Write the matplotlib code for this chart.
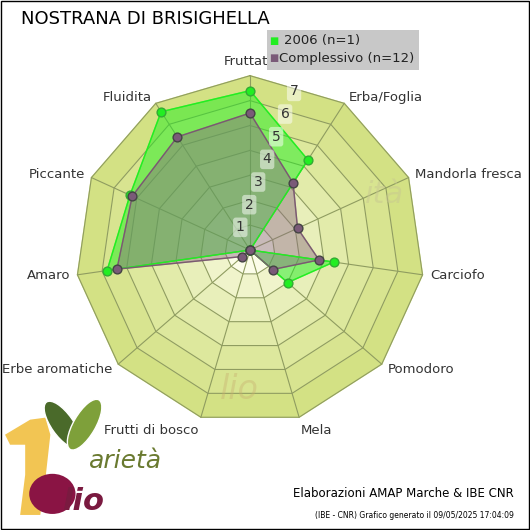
import numpy as np
import matplotlib
matplotlib.use("Agg")
import matplotlib.pyplot as plt
from matplotlib.colors import to_rgb
from matplotlib.patches import Ellipse, Polygon

title = "NOSTRANA DI BRISIGHELLA"
categories = ["Fruttato", "Erba/Foglia", "Mandorla fresca", "Carciofo", "Pomodoro",
              "Mela", "Frutti di bosco", "Erbe aromatiche", "Amaro", "Piccante", "Fluidita"]
vals_2006 = [6.4, 4.3, 0.0, 3.4, 2.0, 0.0, 0.0, 0.0, 5.8, 5.3, 6.6]
vals_all = [5.5, 3.2, 2.1, 2.8, 1.2, 0.0, 0.0, 0.4, 5.4, 5.2, 5.4]
labels = ["2006 (n=1)", "Complessivo (n=12)"]
ticks = [1, 2, 3, 4, 5, 6, 7]

n = len(categories)
ang = np.pi / 2 - np.arange(n) * 2 * np.pi / n

def xy(vals):
    v = np.asarray(vals, dtype=float)
    x = v * np.cos(ang)
    y = v * np.sin(ang)
    return np.append(x, x[0]), np.append(y, y[0])

fig = plt.figure(figsize=(5.3, 5.3), dpi=100)
ax = fig.add_axes([0, 0, 1, 1])
u = 24.9  # pixels per unit
ax.set_xlim(-250 / u, 280 / u)
ax.set_ylim(-280 / u, 250 / u)
ax.axis("off")

# ring fills
c_out = np.array(to_rgb("#d3e184"))
c_in = np.array(to_rgb("#fbfce8"))
for r in range(7, 0, -1):
    t = (r - 1) / 6
    col = c_in * (1 - t**0.7) + c_out * t**0.7
    gx, gy = xy([r] * n)
    ax.fill(gx, gy, color=col, zorder=1)
    ax.plot(gx, gy, color="#8f9c60", lw=0.8, zorder=2)
for a in ang:
    ax.plot([0, 7 * np.cos(a)], [0, 7 * np.sin(a)], color="#8f9c60", lw=0.8, zorder=2)

# faint watermark
ax.text(4.6, 1.9, "ità", fontsize=22, style="italic", color="#c8c890", alpha=0.5, zorder=2)
ax.text(-1.2, -6.0, "lio", fontsize=24, style="italic", color="#c8b070", alpha=0.4, zorder=2)

for r in ticks:
    ax.text(-0.75 + r * 0.36, r * 0.91, str(r), fontsize=10, color="#333333",
            ha="center", va="center", zorder=6,
            bbox=dict(boxstyle="round,pad=0.2", fc="white", ec="none", alpha=0.5))

x1, y1 = xy(vals_2006)
x2, y2 = xy(vals_all)
ax.fill(x1, y1, color="#22ee22", alpha=0.5, zorder=3)
ax.plot(x1, y1, color="#22ee22", lw=1, zorder=4)
ax.fill(x2, y2, color="#8a6a80", alpha=0.45, zorder=3)
ax.plot(x2, y2, color="#7a5a70", lw=1, zorder=4)
ax.scatter(x1[:-1], y1[:-1], s=40, color="#22ee22", edgecolor="#33aa33", zorder=5)
ax.scatter(x2[:-1], y2[:-1], s=40, color="#7a5a78", edgecolor="#444444", zorder=5)

for c, a in zip(categories, ang):
    r = 7.3
    x, y = r * np.cos(a), r * np.sin(a)
    ha = "center" if abs(np.cos(a)) < 0.2 else ("left" if np.cos(a) > 0 else "right")
    va = "bottom" if np.sin(a) > 0.95 else ("top" if np.sin(a) < -0.95 else "center")
    ax.text(x, y, c, fontsize=9.5, color="#333333", ha=ha, va=va, zorder=7)

fig.text(0.04, 0.965, title, fontsize=13, ha="left", va="center")
# legend
fig.patches.append(plt.Rectangle((0.503, 0.868), 0.287, 0.076, transform=fig.transFigure,
                                 fc="#c8c8c8", ec="none", zorder=0))
fig.text(0.508, 0.923, "■", color="#22ee22", fontsize=7, va="center")
fig.text(0.535, 0.923, labels[0], fontsize=9.5, va="center", color="#222222")
fig.text(0.508, 0.89, "■", color="#7a5a78", fontsize=7, va="center")
fig.text(0.527, 0.89, labels[1], fontsize=9.5, va="center", color="#222222")

fig.text(0.97, 0.062, "Elaborazioni AMAP Marche & IBE CNR", fontsize=8.5, ha="right")
fig.text(0.97, 0.022, "(IBE - CNR) Grafico generato il 09/05/2025 17:04:09", fontsize=5.5, ha="right")

# logo (approximate)
lg = fig.add_axes([0, 0, 0.38, 0.265])
lg.set_xlim(0, 200)
lg.set_ylim(0, 140)
lg.axis("off")
lg.add_patch(Polygon([[5, 95], [30, 110], [45, 112], [50, 95], [45, 50], [40, 15], [20, 15],
                      [25, 55], [25, 85], [10, 85]], closed=True, fc="#f2c553", ec="none"))
lg.add_patch(Ellipse((62, 105), 22, 55, angle=35, fc="#4a6a2a", ec="white", lw=1))
lg.add_patch(Ellipse((84, 105), 22, 57, angle=-30, fc="#7ea03a", ec="white", lw=1))
lg.add_patch(Ellipse((52, 36), 46, 40, fc="#8a1444", ec="none"))
lg.text(88, 62, "arietà", fontsize=18, style="italic", color="#6a7a30")
lg.text(62, 20, "lio", fontsize=22, style="italic", weight="bold", color="#7a1a40")

fig.patches.append(plt.Rectangle((0.001, 0.001), 0.998, 0.998, transform=fig.transFigure,
                                 fill=False, ec="black", lw=1))
fig.savefig("out.png", dpi=100)
